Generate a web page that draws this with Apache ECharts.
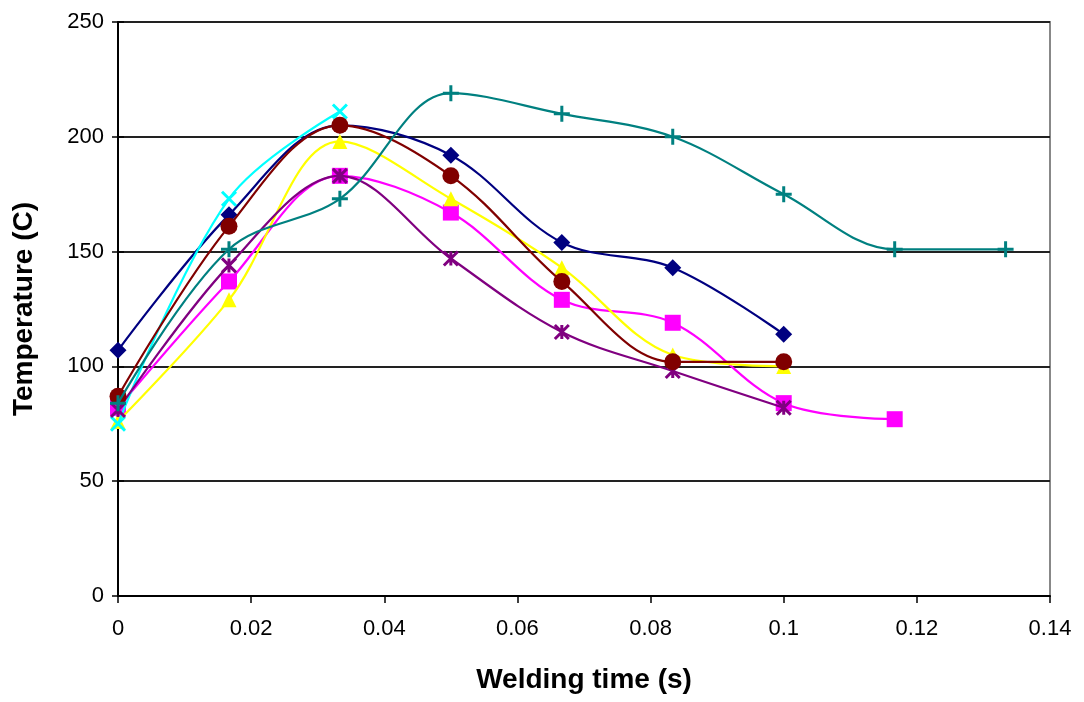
<!DOCTYPE html>
<html>
<head>
<meta charset="utf-8">
<script src="https://cdn.jsdelivr.net/npm/echarts@6/dist/echarts.min.js"></script>
<style>
html,body{margin:0;padding:0;background:#fff;}
#c{width:1084px;height:702px;}
</style>
</head>
<body>
<div id="c"></div>
<script>
const times = [0, 0.01667, 0.03333, 0.05, 0.06667, 0.08333, 0.1, 0.11667, 0.13333];
const s1 = [107, 166, 205, 192, 154, 143, 114];
const s2 = [82, 137, 183, 167, 129, 119, 84, 77];
const s3 = [76, 129, 198, 173, 143, 105, 100];
const s4 = [75, 173, 211];
const s5 = [81, 144, 183, 147, 115, 98, 82];
const s6 = [87, 161, 205, 183, 137, 102, 102];
const s7 = [84, 151, 173, 219, 210, 200, 175, 151, 151];
const xTicks = ['0', '0.02', '0.04', '0.06', '0.08', '0.1', '0.12', '0.14'];
const yTicks = ['0', '50', '100', '150', '200', '250'];

const colors = ['#000080', '#FF00FF', '#FFFF00', '#00FFFF', '#800080', '#800000', '#008080'];
const values = [s1, s2, s3, s4, s5, s6, s7];
const symbols = [
  'path://M5,0L10,5L5,10L0,5Z',
  'rect',
  'triangle',
  'path://M0,0L10,10M10,0L0,10',
  'path://M0,0L10,10M10,0L0,10M5,0L5,10',
  'circle',
  'path://M5,0L5,10M0,5L10,5'
];
const sizes = [17, 16, 15, 14, 14, 17, 16];
const strokeOnly = [false, false, false, true, true, false, true];

const series = values.map((vals, i) => ({
  type: 'line',
  smooth: 0.35,
  data: vals.map((v, j) => [times[j], v]),
  symbol: symbols[i],
  symbolSize: sizes[i],
  showSymbol: true,
  lineStyle: {color: colors[i], width: 2.2},
  itemStyle: strokeOnly[i]
    ? {color: 'rgba(0,0,0,0)', borderColor: colors[i], borderWidth: 3}
    : {color: colors[i], borderWidth: 0},
  emphasis: {disabled: true},
  z: 2 + i
}));

const chart = echarts.init(document.getElementById('c'), null, {renderer: 'canvas'});
chart.setOption({
  animation: false,
  backgroundColor: '#fff',
  grid: {left: 118, right: 34, top: 22, bottom: 106, show: true, borderColor: '#888', borderWidth: 2},
  xAxis: {
    type: 'value', min: 0, max: 0.14, interval: 0.02,
    name: 'Welding time (s)', nameLocation: 'middle', nameGap: 70,
    nameTextStyle: {fontFamily: 'Liberation Sans', fontWeight: 'bold', fontSize: 28, color: '#000'},
    axisLine: {onZero: false, lineStyle: {color: '#000', width: 2}},
    axisTick: {show: true, inside: false, length: 7, lineStyle: {color: '#000', width: 1.5}},
    axisLabel: {
      margin: 22, fontFamily: 'Liberation Sans', fontSize: 22, color: '#000',
      formatter: v => xTicks[Math.round(v / 0.02)]
    },
    splitLine: {show: false}
  },
  yAxis: [{
    type: 'value', min: 0, max: 250, interval: 50,
    name: 'Temperature (C)', nameLocation: 'middle', nameGap: 80,
    nameTextStyle: {fontFamily: 'Liberation Sans', fontWeight: 'bold', fontSize: 28, color: '#000'},
    axisLine: {show: true, lineStyle: {color: '#000', width: 2}},
    axisTick: {show: true, inside: false, length: 6, lineStyle: {color: '#000', width: 1.5}},
    axisLabel: {
      margin: 14, fontFamily: 'Liberation Sans', fontSize: 22, color: '#000',
      formatter: v => yTicks[Math.round(v / 50)]
    },
    splitLine: {show: true, lineStyle: {color: '#222', width: 2}}
  }, {
    type: 'value', min: 0, max: 250, interval: 50, position: 'left',
    axisLine: {show: false},
    axisTick: {show: true, inside: true, length: 6, lineStyle: {color: '#000', width: 1.5}},
    axisLabel: {show: false},
    splitLine: {show: false}
  }],
  series: series
});
</script>
</body>
</html>
